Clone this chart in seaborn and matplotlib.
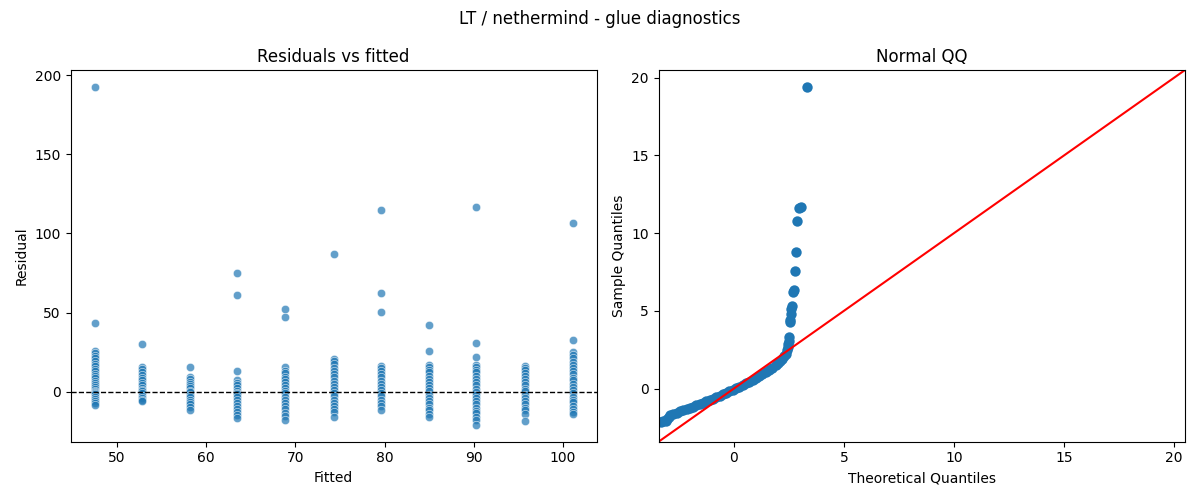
import pandas as pd
import seaborn as sns
import matplotlib
matplotlib.use('Agg')
import matplotlib.pyplot as plt

# fitted levels and residuals
fitted_levels = [47.5, 52.8, 58.2, 63.5, 68.9, 74.3, 79.6, 85.0, 90.3, 95.7, 101.1]
residuals_by_level = [
    [192.5, 43.5, 25.5, 24.2, 22.6, 21.0, 19.3, 17.5, 16.0, 14.6, 12.8, 11.2, 9.7, 8.4,
     6.6, 5.2, 4.1, 2.8, 1.6, 0.6, 0.0, -0.7, -1.6, -3.1, -4.4, -5.8, -7.1, -8.2],
    [30.4, 15.6, 14.1, 12.3, 10.6, 8.8, 7.2, 5.6, 4.1, 2.4, 1.1, 0.2, -1.1, -2.6, -4.0, -5.1, -6.1],
    [15.6, 9.3, 7.9, 6.4, 4.8, 3.6, 2.1, 0.6, -0.4, -1.9, -3.6, -5.2, -6.4, -8.1, -9.6, -11.4],
    [75.0, 61.0, 13.3, 7.2, 5.4, 3.9, 2.1, 0.3, -0.6, -1.7, -3.2, -5.1, -7.0, -9.3, -11.1, -12.8,
     -14.9, -16.7],
    [52.5, 47.3, 15.4, 13.3, 11.6, 9.4, 7.8, 5.9, 4.2, 2.3, 0.6, -0.9, -3.1, -5.2, -7.0, -9.1,
     -10.9, -13.2, -15.1, -17.7],
    [87.0, 20.9, 19.1, 17.2, 15.1, 13.0, 11.2, 9.1, 7.0, 4.8, 3.1, 1.2, -0.8, -2.9, -5.1, -7.2,
     -8.9, -11.0, -13.1, -16.0],
    [115.0, 62.4, 50.4, 16.5, 14.8, 13.1, 11.0, 9.2, 6.9, 5.1, 3.2, 1.0, -0.8, -2.9, -5.2, -7.0,
     -9.1, -11.4],
    [42.4, 25.7, 17.1, 15.4, 13.8, 12.1, 10.2, 7.8, 6.1, 3.9, 2.2, 0.1, -1.9, -4.2, -6.0, -8.1,
     -10.2, -11.9, -14.0, -16.2],
    [116.5, 30.8, 22.0, 17.1, 15.6, 13.9, 12.2, 9.8, 8.1, 5.9, 4.2, 1.9, 0.0, -2.1, -3.8, -6.2,
     -7.9, -10.1, -12.2, -13.8, -16.1, -18.0, -21.0],
    [16.5, 15.1, 13.4, 11.9, 10.2, 7.8, 6.1, 4.2, 1.8, 0.1, -2.2, -3.9, -6.1, -7.8, -10.2,
     -11.8, -13.9, -18.8],
    [106.8, 32.7, 24.9, 23.1, 21.2, 18.8, 17.1, 14.8, 13.2, 11.1, 8.9, 7.2, 4.9, 3.1, 1.2, -0.9,
     -3.1, -5.2, -6.8, -9.1, -11.2, -12.6, -14.1],
]

# normal QQ points (standardised residuals)
qq_theoretical = [-3.32, -3.2, -3.1, -3.02, -2.95, -2.88, -2.75, -2.6, -2.45, -2.3, -2.15,
                  -2.0, -1.85, -1.7, -1.55, -1.4, -1.25, -1.1, -0.95, -0.8, -0.65, -0.5,
                  -0.35, -0.2, -0.05, 0.1, 0.25, 0.4, 0.55, 0.7, 0.85, 1.0, 1.15, 1.3, 1.45,
                  1.6, 1.75, 1.9, 2.0, 2.1, 2.2, 2.28, 2.35, 2.4, 2.44, 2.47, 2.5, 2.52,
                  2.53, 2.56, 2.58, 2.6, 2.63, 2.69, 2.72, 2.77, 2.82, 2.89, 2.97, 3.07, 3.32]
qq_sample = [-2.12, -2.1, -2.08, -1.98, -1.8, -1.72, -1.65, -1.56, -1.47, -1.40, -1.32,
             -1.24, -1.16, -1.07, -0.99, -0.91, -0.82, -0.74, -0.65, -0.56, -0.47, -0.38,
             -0.28, -0.18, -0.08, 0.03, 0.13, 0.24, 0.34, 0.44, 0.55, 0.66, 0.78, 0.91, 1.04,
             1.18, 1.33, 1.50, 1.63, 1.77, 1.93, 2.08, 2.25, 2.45, 2.65, 2.85, 3.05, 3.3,
             4.3, 4.4, 4.8, 5.1, 5.3, 6.2, 6.35, 7.55, 8.77, 10.75, 11.6, 11.7, 19.4]

rows = []
for f, res in zip(fitted_levels, residuals_by_level):
    for r in res:
        rows.append({'Fitted': f, 'Residual': r})
resid_df = pd.DataFrame(rows)

fig, (ax1, ax2) = plt.subplots(1, 2, figsize=(12, 5), dpi=100)

sns.scatterplot(data=resid_df, x='Fitted', y='Residual', alpha=0.7, ax=ax1)
ax1.axhline(0, color='black', linestyle='--', linewidth=1)
ax1.set_title('Residuals vs fitted')

sns.scatterplot(x=qq_theoretical, y=qq_sample, s=56, linewidth=0, color='#1f77b4', ax=ax2)
lo, hi = -3.42, 20.47
ax2.plot([lo, hi], [lo, hi], color='red')
ax2.set_xlim(lo, hi)
ax2.set_ylim(lo, hi)
ax2.set_xlabel('Theoretical Quantiles')
ax2.set_ylabel('Sample Quantiles')
ax2.set_title('Normal QQ')

fig.suptitle('LT / nethermind - glue diagnostics')
plt.tight_layout()
plt.savefig('out.png', dpi=100)
